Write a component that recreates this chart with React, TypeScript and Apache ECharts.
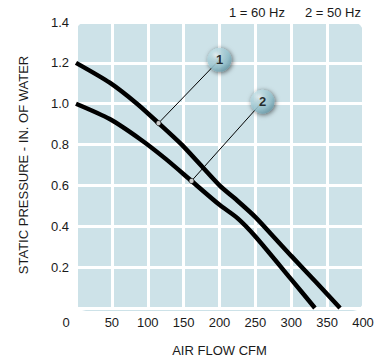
import React, { useEffect, useRef } from "react";
import * as echarts from "echarts";

// 60 Hz curve (1): [air flow CFM, static pressure in. of water]
const curve60Hz: [number, number][] = [
  [0, 1.2], [47, 1.103], [85, 1.0], [115, 0.905], [150, 0.79], [200, 0.6],
  [225, 0.525], [250, 0.445], [275, 0.35], [300, 0.255], [335, 0.125], [368, 0],
];
// 50 Hz curve (2)
const curve50Hz: [number, number][] = [
  [0, 1.0], [47, 0.925], [90, 0.825], [125, 0.73], [161, 0.622], [200, 0.505],
  [225, 0.44], [250, 0.35], [300, 0.14], [333, 0],
];
// callout markers: anchor point on curve, bubble position, label
const calloutLabels = ["1", "2"];
const calloutAnchors: [number, number][] = [[115, 0.905], [161, 0.622]];
const calloutBubbles: [number, number][] = [[200, 1.215], [260, 1.01]];

const xTicks = { min: 0, max: 400, interval: 50 };
const yTicks = { min: 0, max: 1.4, interval: 0.2 };
const legendTexts = ["1 = 60 Hz", "2 = 50 Hz"];
const xName = "AIR FLOW CFM";
const yName = "STATIC PRESSURE - IN. OF WATER";

const FONT = "'Liberation Sans', Arial, Helvetica, sans-serif";
const TXT = "#1a1a1a";

export default function App() {
  const ref = useRef<HTMLDivElement>(null);
  useEffect(() => {
    if (!ref.current) return;
    const chart = echarts.init(ref.current, null, { renderer: "svg" });
    const bubbleFill = new echarts.graphic.RadialGradient(0.35, 0.3, 0.8, [
      { offset: 0, color: "#f2fafc" },
      { offset: 0.22, color: "#c6e3ea" },
      { offset: 0.65, color: "#98c7d3" },
      { offset: 1, color: "#5f909f" },
    ]);
    const series: any[] = [
      {
        type: "line", data: curve60Hz, smooth: 0.25, symbol: "none",
        lineStyle: { color: "#000", width: 4.5 }, z: 3,
      },
      {
        type: "line", data: curve50Hz, smooth: 0.25, symbol: "none",
        lineStyle: { color: "#000", width: 4.5 }, z: 3,
      },
    ];
    calloutLabels.forEach((lab, i) => {
      series.push({
        type: "line", data: [calloutAnchors[i], calloutBubbles[i]], symbol: "none",
        lineStyle: { color: "#000", width: 1 }, z: 4,
      });
      series.push({
        type: "scatter", data: [calloutAnchors[i]], symbol: "circle", symbolSize: 5,
        itemStyle: { color: "#fff", borderColor: "#000", borderWidth: 0.8 }, z: 5,
      });
      series.push({
        type: "scatter", data: [calloutBubbles[i]], symbol: "circle", symbolSize: 24,
        itemStyle: {
          color: bubbleFill, shadowBlur: 5, shadowColor: "rgba(0,0,0,0.75)",
          shadowOffsetX: 1, shadowOffsetY: 1,
        },
        label: {
          show: true, position: "inside", formatter: lab,
          color: "#000", fontWeight: "bold", fontSize: 13, fontFamily: FONT,
        },
        z: 6,
      });
    });
    chart.setOption({
      animation: false,
      grid: { left: 76, right: 21, top: 22, bottom: 51 },
      graphic: [
        {
          type: "rect", z: -10, silent: true,
          shape: { x: 76, y: 22, width: 287, height: 289, r: 10 },
          style: { fill: "#cde2e8" },
        },
        {
          type: "text", x: 285, y: 12,
          style: {
            text: legendTexts[0], fill: TXT, font: `13px ${FONT}`,
            textAlign: "right", textVerticalAlign: "middle",
          },
        },
        {
          type: "text", x: 361, y: 12,
          style: {
            text: legendTexts[1], fill: TXT, font: `13px ${FONT}`,
            textAlign: "right", textVerticalAlign: "middle",
          },
        },
      ],
      xAxis: {
        type: "value", ...xTicks,
        name: xName, nameLocation: "middle", nameGap: 36,
        nameTextStyle: { color: TXT, fontSize: 13, fontFamily: FONT },
        axisLine: { show: false }, axisTick: { show: false },
        axisLabel: {
          color: TXT, fontSize: 13, fontFamily: FONT, margin: 8,
          formatter: (v: number) => (v === 0 ? "{z|0}" : String(v)),
          rich: { z: { padding: [0, 20, 0, 0], color: TXT, fontSize: 13, fontFamily: FONT } },
        },
        splitLine: { show: true, lineStyle: { color: "#fff", width: 3 } },
      },
      yAxis: {
        type: "value", ...yTicks,
        name: yName, nameLocation: "middle", nameGap: 46, nameRotate: 90,
        nameTextStyle: { color: TXT, fontSize: 13, fontFamily: FONT },
        axisLine: { show: false }, axisTick: { show: false },
        axisLabel: {
          color: TXT, fontSize: 13, fontFamily: FONT, margin: 7,
          formatter: (v: number) => (v === 0 ? "" : v.toFixed(1)),
        },
        splitLine: { show: true, lineStyle: { color: "#fff", width: 3 } },
      },
      series,
    });
    return () => chart.dispose();
  }, []);
  return <div ref={ref} style={{ width: 384, height: 362, position: "absolute", left: 0, top: 0 }} />;
}
